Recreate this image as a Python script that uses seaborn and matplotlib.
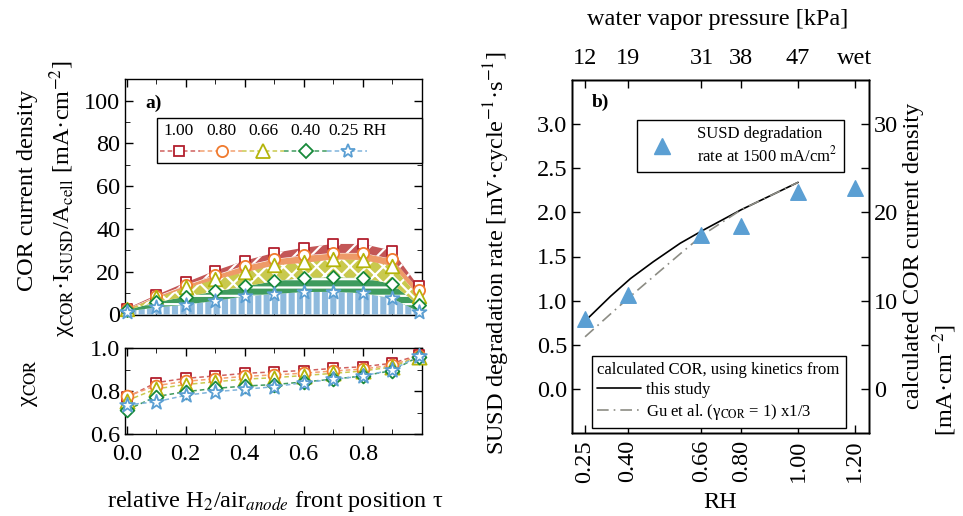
import numpy as np
import pandas as pd
import matplotlib
matplotlib.use("Agg")
import matplotlib.pyplot as plt
import seaborn as sns
from matplotlib.lines import Line2D
from matplotlib.patches import Rectangle
from matplotlib.ticker import MultipleLocator, FixedLocator, FixedFormatter

# ---------------- data ----------------
tau = [0.0, 0.1, 0.2, 0.3, 0.4, 0.5, 0.6, 0.7, 0.8, 0.9, 0.99]
rh_levels = ["1.00", "0.80", "0.66", "0.40", "0.25"]

# COR current density [mA/cm2] along the front position, per RH
j_cor_100 = [2.8, 9.1, 15.0, 20.5, 25.2, 28.8, 31.2, 33.0, 33.0, 29.9, 13.1]
j_cor_080 = [2.6, 8.5, 13.8, 18.5, 22.9, 26.0, 27.6, 28.8, 28.8, 26.0, 11.6]
j_cor_066 = [2.5, 8.0, 12.7, 16.6, 20.0, 23.2, 24.4, 26.0, 25.7, 22.9, 8.5]
j_cor_040 = [2.0, 5.8, 8.3, 10.8, 13.1, 15.6, 17.1, 17.4, 17.1, 14.3, 4.4]
j_cor_025 = [1.4, 3.3, 4.6, 6.4, 8.5, 9.6, 10.5, 10.6, 10.0, 7.5, 1.3]

# COR fraction chi_COR along the front position, per RH
chi_100 = [0.770, 0.839, 0.859, 0.870, 0.882, 0.889, 0.895, 0.905, 0.913, 0.929, 0.967]
chi_080 = [0.775, 0.825, 0.845, 0.857, 0.868, 0.875, 0.883, 0.893, 0.902, 0.920, 0.962]
chi_066 = [0.755, 0.810, 0.830, 0.843, 0.855, 0.862, 0.872, 0.882, 0.893, 0.912, 0.960]
chi_040 = [0.712, 0.774, 0.797, 0.812, 0.823, 0.830, 0.842, 0.855, 0.870, 0.895, 0.960]
chi_025 = [0.735, 0.750, 0.780, 0.797, 0.808, 0.820, 0.839, 0.854, 0.870, 0.898, 0.963]

# SUSD degradation vs. RH
rh = [0.25, 0.40, 0.66, 0.80, 1.00, 1.20]
rh_labels = ["0.25", "0.40", "0.66", "0.80", "1.00", "1.20"]
pvap_labels = ["12", "19", "31", "38", "47", "wet"]
susd_rate = [0.79, 1.06, 1.74, 1.85, 2.23, 2.28]

# calculated COR (left axis units), this study and Gu et al. x1/3
model_rh = [0.26, 0.34, 0.41, 0.49, 0.585, 0.667, 0.80, 1.00]
model_this = [0.80, 1.05, 1.25, 1.44, 1.65, 1.80, 2.03, 2.34]
gu_rh = [0.25, 0.34, 0.41, 0.49, 0.585, 0.667, 0.80, 1.00]
gu_scaled = [0.59, 0.85, 1.05, 1.27, 1.53, 1.75, 2.03, 2.34]

# ---------------- style ----------------
sns.set_style("ticks")
plt.rcParams.update({
    "font.family": ["Liberation Serif", "DejaVu Serif"],
    "mathtext.fontset": "stix",
    "axes.edgecolor": "black",
    "axes.linewidth": 1.0,
    "text.color": "black",
    "axes.labelcolor": "black",
    "xtick.color": "black",
    "ytick.color": "black",
    "xtick.direction": "in",
    "ytick.direction": "in",
    "xtick.major.size": 6,
    "ytick.major.size": 6,
    "xtick.minor.size": 3.5,
    "ytick.minor.size": 3.5,
    "xtick.major.width": 1.0,
    "ytick.major.width": 1.0,
    "hatch.linewidth": 1.6,
})

FS = 17.5
LFS = 12.5

W, H = 963, 516
fig = plt.figure(figsize=(W / 100, H / 100), dpi=100)


def px_axes(x0, y0, x1, y1):
    return fig.add_axes([x0 / W, 1 - y1 / H, (x1 - x0) / W, (y1 - y0) / H])


edge_cols = ["#b21f2d", "#f07a2e", "#b4b40a", "#17893a", "#5b9fd3"]
fill_cols = ["#c35656", "#ee9a68", "#c9c94e", "#3f9b5e", "#8fbadd"]
line_cols = ["#d0605e", "#f3a070", "#c9c94e", "#3f9b5e", "#80b4dc"]
markers = ["s", "o", "^", "D", "*"]
msizes = [55, 65, 95, 45, 110]

j_series = [j_cor_100, j_cor_080, j_cor_066, j_cor_040, j_cor_025]
chi_series = [chi_100, chi_080, chi_066, chi_040, chi_025]

# ---------------- panel a) upper ----------------
ax = px_axes(125, 79.3, 421.7, 314.5)
ax.set_xlim(-0.006, 1.0)
ax.set_ylim(0, 110)

tau_arr = np.array(tau)
bands = [(np.zeros(len(tau)), j_cor_025, fill_cols[4], "||"),
         (j_cor_025, j_cor_040, fill_cols[3], "--"),
         (j_cor_040, j_cor_066, fill_cols[2], "xx"),
         (j_cor_066, j_cor_080, fill_cols[1], None),
         (j_cor_080, j_cor_100, fill_cols[0], "//")]
for lo, hi, fc, hatch in bands:
    ax.fill_between(tau_arr, lo, hi, facecolor=fc, edgecolor="white",
                    hatch=hatch, linewidth=0, zorder=1)

for i, (js, m) in enumerate(zip(j_series, markers)):
    sns.scatterplot(x=tau, y=js, marker=m, s=msizes[i], color="white",
                    edgecolor=edge_cols[i], linewidth=1.3, ax=ax,
                    clip_on=False, zorder=3 + i, legend=False)

ax.yaxis.set_major_locator(MultipleLocator(20))
ax.yaxis.set_minor_locator(MultipleLocator(10))
ax.xaxis.set_major_locator(FixedLocator([0, 0.2, 0.4, 0.6, 0.8]))
ax.xaxis.set_minor_locator(MultipleLocator(0.1))
ax.tick_params(which="both", top=True, right=True, labelbottom=False)
ax.tick_params(axis="y", labelsize=FS)
ax.set_xlabel("")
ax.set_ylabel("")
ax.text(0.07, 0.898, "a)", transform=ax.transAxes, fontsize=14,
        fontweight="bold", va="center", ha="left")

# legend block for the RH series
ax.add_patch(Rectangle((0.109, 0.645), 0.891, 0.192, transform=ax.transAxes,
                       facecolor="white", edgecolor="black", lw=1.0, zorder=10,
                       clip_on=False))
lab_x = [0.182, 0.326, 0.466, 0.609, 0.735]
for lx, lab in zip(lab_x, rh_levels):
    ax.text(lx, 0.781, lab, transform=ax.transAxes, fontsize=LFS,
            ha="center", va="center", zorder=11)
ax.text(0.842, 0.781, "RH", transform=ax.transAxes, fontsize=LFS,
        ha="center", va="center", zorder=11)
seg = [0.118, 0.254, 0.396, 0.5375, 0.68, 0.815]
mk_x = [0.182, 0.326, 0.466, 0.609, 0.752]
for i in range(5):
    ax.add_line(Line2D([seg[i], seg[i + 1]], [0.696, 0.696],
                       transform=ax.transAxes, color=line_cols[i], lw=1.1,
                       ls=(0, (3, 2)), zorder=11))
    ax.add_line(Line2D([mk_x[i]], [0.696], transform=ax.transAxes,
                       marker=markers[i], ms=np.sqrt(msizes[i]),
                       mfc="white", mec=edge_cols[i], mew=1.3, ls="none",
                       zorder=12))

# ---------------- panel a) lower ----------------
axl = px_axes(125, 348, 421.7, 434)
axl.set_xlim(-0.006, 1.0)
axl.set_ylim(0.6, 1.0)
for i, cs in enumerate(chi_series):
    sns.lineplot(x=tau, y=cs, color=line_cols[i], lw=1.1,
                 linestyle=(0, (3, 2)), ax=axl, zorder=2 + i)
for i, cs in enumerate(chi_series):
    sns.scatterplot(x=tau, y=cs, marker=markers[i], s=msizes[i] * 1.1,
                    color="white", edgecolor=edge_cols[i], linewidth=1.3,
                    ax=axl, clip_on=False, zorder=8 + i, legend=False)
axl.yaxis.set_minor_locator(MultipleLocator(0.1))
axl.yaxis.set_major_locator(FixedLocator([0.6, 0.8, 1.0]))
axl.yaxis.set_major_formatter(FixedFormatter(["0.6", "0.8", "1.0"]))
axl.xaxis.set_major_locator(FixedLocator([0, 0.2, 0.4, 0.6, 0.8]))
axl.xaxis.set_minor_locator(MultipleLocator(0.1))
axl.xaxis.set_major_formatter(FixedFormatter(["0.0", "0.2", "0.4", "0.6", "0.8"]))
axl.tick_params(which="both", top=True, right=True)
axl.tick_params(axis="both", labelsize=FS)
axl.tick_params(axis="x", pad=7)
axl.set_xlabel("")
axl.set_ylabel("")

# ---------------- panel b) ----------------
axr = px_axes(572, 80, 869, 433)
axr.set_xlim(0.204, 1.25)
axr.set_ylim(-0.5, 3.5)

sns.lineplot(x=model_rh, y=model_this, color="black", lw=1.2, ax=axr,
             zorder=3, label="this study")
sns.lineplot(x=gu_rh, y=gu_scaled, color="#8c8c84", lw=1.2,
             linestyle=(0, (7, 3, 1, 3)), ax=axr, zorder=3,
             label="Gu et al. (γ$_\\mathrm{COR}$ = 1) x1/3")
axr.scatter(rh, susd_rate, marker="^", s=125, color="#5b9fd3",
            edgecolor="#5b9fd3", zorder=5, clip_on=False)

axr.set_xticks(rh)
axr.set_xticklabels(rh_labels, rotation=90)
axr.set_yticks(np.arange(0, 3.01, 0.5))
axr.set_yticklabels(["0.0", "0.5", "1.0", "1.5", "2.0", "2.5", "3.0"])
axr.tick_params(axis="both", labelsize=FS, top=False, right=False)
axr.tick_params(axis="x", pad=5)
axr.set_xlabel("")
axr.set_ylabel("")
axr.text(0.066, 0.936, "b)", transform=axr.transAxes, fontsize=14,
         fontweight="bold", va="center", ha="left")

leg1 = axr.legend(handles=axr.get_lines()[:2], loc="lower left",
                  bbox_to_anchor=(0.066, 0.015), frameon=True, fancybox=False,
                  edgecolor="black", framealpha=1, fontsize=LFS - 0.5,
                  title="calculated COR, using kinetics from",
                  title_fontsize=LFS - 0.5, alignment="left", handlelength=2.6,
                  handletextpad=0.3, borderpad=0.35, labelspacing=0.25,
                  borderaxespad=0)
leg1.get_frame().set_linewidth(1.0)
axr.add_artist(leg1)

tri_handle = Line2D([], [], marker="^", ls="none", ms=11, color="#5b9fd3")
leg2 = axr.legend(handles=[tri_handle],
                  labels=["SUSD degradation\nrate at 1500 mA/cm$^2$"],
                  loc="upper left", bbox_to_anchor=(0.218, 0.888),
                  frameon=True, fancybox=False, edgecolor="black",
                  framealpha=1, fontsize=LFS - 0.5, handlelength=2.2,
                  handletextpad=1.0, borderpad=0.4, borderaxespad=0)
leg2.get_frame().set_linewidth(1.0)

axt = axr.twiny()
axt.set_xlim(axr.get_xlim())
axt.set_xticks(rh)
axt.set_xticklabels(pvap_labels)
axt.tick_params(axis="x", labelsize=FS, pad=8)

axy = axr.twinx()
axy.set_ylim(-5, 35)
axy.yaxis.set_major_locator(FixedLocator([0, 5, 10, 15, 20, 25, 30]))
axy.yaxis.set_major_formatter(FixedFormatter(["0", "", "10", "", "20", "", "30"]))
axy.tick_params(axis="y", labelsize=FS)

# ---------------- labels ----------------
def ftext(x, y, s, **kw):
    fig.text(x / W, 1 - y / H, s, fontsize=kw.pop("fontsize", FS), **kw)

ftext(28, 190, "COR current density", rotation=90, ha="center", va="center")
ftext(63, 199, "χ$_\\mathrm{COR}$·I$_\\mathrm{SUSD}$/A$_\\mathrm{cell}$ [mA·cm$^{-2}$]",
      rotation=90, ha="center", va="center")
ftext(30, 383, "χ$_\\mathrm{COR}$", rotation=90, ha="center", va="center")
ftext(275, 502, "relative H$_2$/air$_{\\mathit{anode}}$ front position τ",
      ha="center", va="center")
ftext(497, 253, "SUSD degradation rate [mV·cycle$^{-1}$·s$^{-1}$]",
      rotation=90, ha="center", va="center")
ftext(913, 256, "calculated COR current density", rotation=90,
      ha="center", va="center")
ftext(945, 380, "[mA·cm$^{-2}$]", rotation=90, ha="center", va="center")
ftext(718, 20, "water vapor pressure [kPa]", ha="center", va="center")
ftext(720, 503, "RH", ha="center", va="center")

fig.savefig("out.png", dpi=100)
